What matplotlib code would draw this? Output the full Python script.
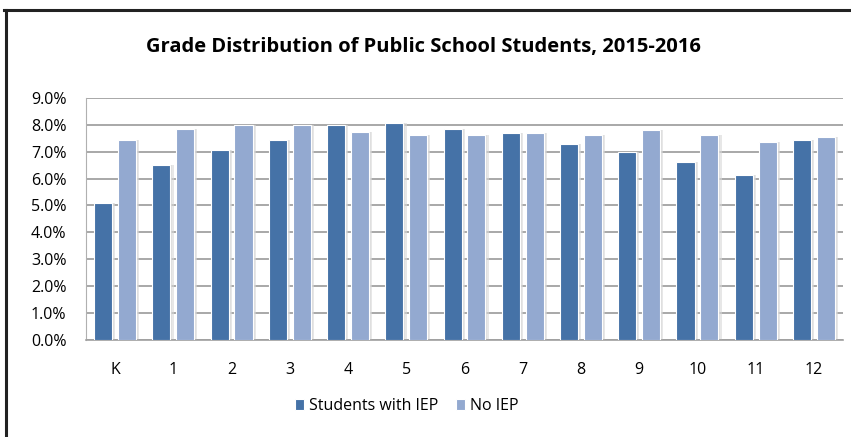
import numpy as np
import matplotlib.pyplot as plt
from matplotlib.lines import Line2D

## Data
grades = ['K', '1', '2', '3', '4', '5', '6', '7', '8', '9', '10', '11', '12']
iep = [5.10, 6.49, 7.06, 7.44, 8.01, 8.06, 7.85, 7.69, 7.29, 7.00, 6.61, 6.14, 7.45]
no_iep = [7.44, 7.84, 8.01, 8.01, 7.73, 7.62, 7.62, 7.69, 7.62, 7.79, 7.62, 7.35, 7.56]

dark = '#4572A7'
light = '#93A9D0'
grid_col = '#9a9a9a'

plt.rcParams['font.family'] = ['Open Sans', 'DejaVu Sans']

fig = plt.figure(figsize=(8.51, 4.37), dpi=100)
ax = fig.add_axes([0.101, 0.222, 0.8896, 0.554])

x = np.arange(len(grades))
w = 0.31
off = 0.205

# soft shadows to the right of each bar
for dx in (0.035, 0.055):
    ax.bar(x - off + dx, iep, w, color='#d8d8d8', alpha=0.6, zorder=2, linewidth=0)
    ax.bar(x + off + dx, no_iep, w, color='#d8d8d8', alpha=0.6, zorder=2, linewidth=0)

ax.bar(x - off, iep, w, color=dark, edgecolor='white', linewidth=0.8, zorder=3,
       label='Students with IEP')
ax.bar(x + off, no_iep, w, color=light, edgecolor='white', linewidth=0.8, zorder=3,
       label='No IEP')

ax.set_xlim(-0.5, len(grades) - 0.5)
ax.set_ylim(0, 9)
ax.set_yticks(np.arange(0, 9.5, 1))
ax.set_yticklabels([f'{v:.1f}%' for v in np.arange(0, 9.5, 1)])
ax.set_xticks(x)
ax.set_xticklabels(grades)
ax.tick_params(axis='both', length=0, labelsize=11.5, colors='black')
ax.tick_params(axis='y', pad=14)
ax.tick_params(axis='x', pad=16)

ax.yaxis.grid(True, color=grid_col, linewidth=1.2, zorder=0)
ax.set_axisbelow(True)
for s in ['top', 'right']:
    ax.spines[s].set_visible(False)
ax.spines['left'].set_color('#b0b0b0')
ax.spines['bottom'].set_color('#a0a0a0')
ax.spines['bottom'].set_linewidth(1.2)

fig.text(0.497, 0.893, 'Grade Distribution of Public School Students, 2015-2016',
         ha='center', va='center', fontsize=14.5, fontweight='bold')

fig.legend(loc='center', bbox_to_anchor=(0.478, 0.071), ncol=2, frameon=False,
           fontsize=11.5, handlelength=0.55, handleheight=0.7, handletextpad=0.35,
           columnspacing=1.1)

# outer frame (left and top edges visible)
fig.add_artist(Line2D([0.007, 0.007], [0.0, 0.977], transform=fig.transFigure,
                      color='#222222', linewidth=2.2))
fig.add_artist(Line2D([0.005, 1.0], [0.977, 0.977], transform=fig.transFigure,
                      color='#222222', linewidth=2.2))

fig.savefig('out.png', dpi=100)
plt.close()
